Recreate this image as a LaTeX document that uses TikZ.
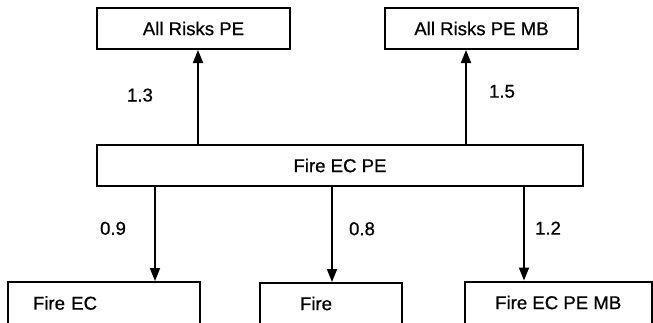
\documentclass[tikz,border=0pt]{standalone}
\usepackage{fontspec}
\setmainfont{Liberation Sans}
\newfontfamily\medfont[FakeBold=0.7]{Liberation Sans}
\usetikzlibrary{arrows.meta}
\begin{document}
\begin{tikzpicture}[x=0.5pt,y=-0.5pt,
  box/.style={draw, line width=1pt, inner sep=0pt, minimum height=20.5pt,
    font=\medfont\fontsize{9.3}{11}\selectfont},
  arr/.style={line width=0.9pt, -{Triangle[length=6.5pt,width=5pt]}},
  lbl/.style={font=\medfont\fontsize{9.3}{11}\selectfont, inner sep=0pt}]
\useasboundingbox (0,0) rectangle (653,322);
\clip (0,0) rectangle (653,322);
% boxes
\node[box, minimum width=96.5pt] (arpe) at (193.5,28.5) {All Risks PE};
\node[box, minimum width=96.5pt] (arpemb) at (481.5,28.5) {All Risks PE MB};
\node[box, minimum width=243pt] (fecpe) at (340,165.5) {Fire EC PE};
\node[box, inner xsep=12.5pt, text width=71pt, align=left, minimum height=21pt] (fec) at (104,303) {Fire EC};
\node[box, inner xsep=20pt, text width=31pt, align=left] (fire) at (331,303.5) {Fire};
\node[box, minimum width=93.25pt, minimum height=21pt] (fecpemb) at (558.25,302.5) {Fire EC PE MB};
% arrow x positions
\coordinate (c1) at (198,0);
\coordinate (c2) at (466,0);
\coordinate (c3) at (155,0);
\coordinate (c4) at (332,0);
\coordinate (c5) at (524,0);
% connectors
\draw[arr] (fecpe.north -| c1) -- (arpe.south -| c1)
  node[lbl, pos=0.52, xshift=-29pt] (l13) {1.3};
\draw[arr] (fecpe.north -| c2) -- (arpemb.south -| c2)
  node[lbl, pos=0.56, xshift=18pt] (l15) {1.5};
\draw[arr] (fecpe.south -| c3) -- (fec.north -| c3)
  node[lbl, pos=0.44, xshift=-21pt] (l09) {0.9};
\draw[arr] (fecpe.south -| c4) -- (fire.north -| c4)
  node[lbl, pos=0.44, xshift=15pt] (l08) {0.8};
\draw[arr] (fecpe.south -| c5) -- (fecpemb.north -| c5)
  node[lbl, pos=0.44, xshift=12pt] (l12) {1.2};
\end{tikzpicture}
\end{document}
